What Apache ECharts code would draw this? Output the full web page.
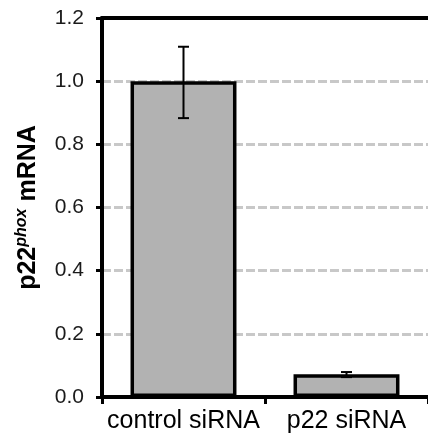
<!DOCTYPE html>
<html>
<head>
<meta charset="utf-8">
<script src="https://cdn.jsdelivr.net/npm/echarts@6/dist/echarts.min.js"></script>
<style>
  html, body { margin: 0; padding: 0; background: #fff; }
  #chart { width: 428px; height: 438px; }
</style>
</head>
<body>
<div id="chart"></div>
<script>
const categories = ['control siRNA', 'p22 siRNA'];
const meanValues = [1.0, 0.072];
const errLow = [0.883, 0.063];
const errHigh = [1.109, 0.079];
const yTicks = [0, 0.2, 0.4, 0.6, 0.8, 1.0, 1.2];

const chart = echarts.init(document.getElementById('chart'));

const option = {
  animation: false,
  textStyle: { fontFamily: 'Liberation Sans, Arial, sans-serif' },
  grid: { left: 102, top: 18, bottom: 41, width: 333 },
  xAxis: [
    {
      type: 'category',
      data: categories,
      axisLine: { lineStyle: { color: '#000', width: 4 } },
      axisTick: { show: true, length: 7, lineStyle: { color: '#000', width: 3 } },
      axisLabel: { color: '#000', fontSize: 25, margin: 12, interval: 0, hideOverlap: false }
    },
    {
      type: 'category',
      data: categories,
      position: 'top',
      axisLine: { lineStyle: { color: '#000', width: 4 } },
      axisTick: { show: false },
      axisLabel: { show: false }
    }
  ],
  yAxis: {
    type: 'value',
    min: yTicks[0],
    max: yTicks[yTicks.length - 1],
    interval: 0.2,
    name: '{a|p22}{b|phox}{a| mRNA}',
    nameLocation: 'middle',
    nameGap: 60,
    nameTextStyle: {
      rich: {
        a: { fontSize: 25, fontWeight: 'bold', color: '#000', lineHeight: 28 },
        b: { fontSize: 16, fontWeight: 'bold', fontStyle: 'italic', color: '#000', verticalAlign: 'top', lineHeight: 16 }
      }
    },
    axisLine: { show: true, lineStyle: { color: '#000', width: 4 } },
    axisTick: { show: true, length: 6, lineStyle: { color: '#000', width: 3 } },
    axisLabel: {
      color: '#1a1a1a', fontSize: 21, margin: 18,
      formatter: v => v.toFixed(1)
    },
    splitLine: { lineStyle: { color: '#c8c8c8', width: 3, type: [9, 3] } }
  },
  series: [
    {
      type: 'bar',
      data: meanValues,
      barWidth: '65%',
      itemStyle: { color: '#b2b2b2', borderColor: '#000', borderWidth: 3.5 }
    },
    {
      type: 'custom',
      data: categories.map((c, i) => [i, errLow[i], errHigh[i]]),
      z: 10,
      renderItem: (params, api) => {
        const x = api.coord([api.value(0), 0])[0];
        const lo = api.coord([api.value(0), api.value(1)])[1];
        const hi = api.coord([api.value(0), api.value(2)])[1];
        const cap = 5.5;
        const style = { stroke: '#000', lineWidth: 2 };
        return {
          type: 'group',
          children: [
            { type: 'line', shape: { x1: x, y1: lo, x2: x, y2: hi }, style },
            { type: 'line', shape: { x1: x - cap, y1: lo, x2: x + cap, y2: lo }, style },
            { type: 'line', shape: { x1: x - cap, y1: hi, x2: x + cap, y2: hi }, style }
          ]
        };
      }
    }
  ]
};

chart.setOption(option);
</script>
</body>
</html>
